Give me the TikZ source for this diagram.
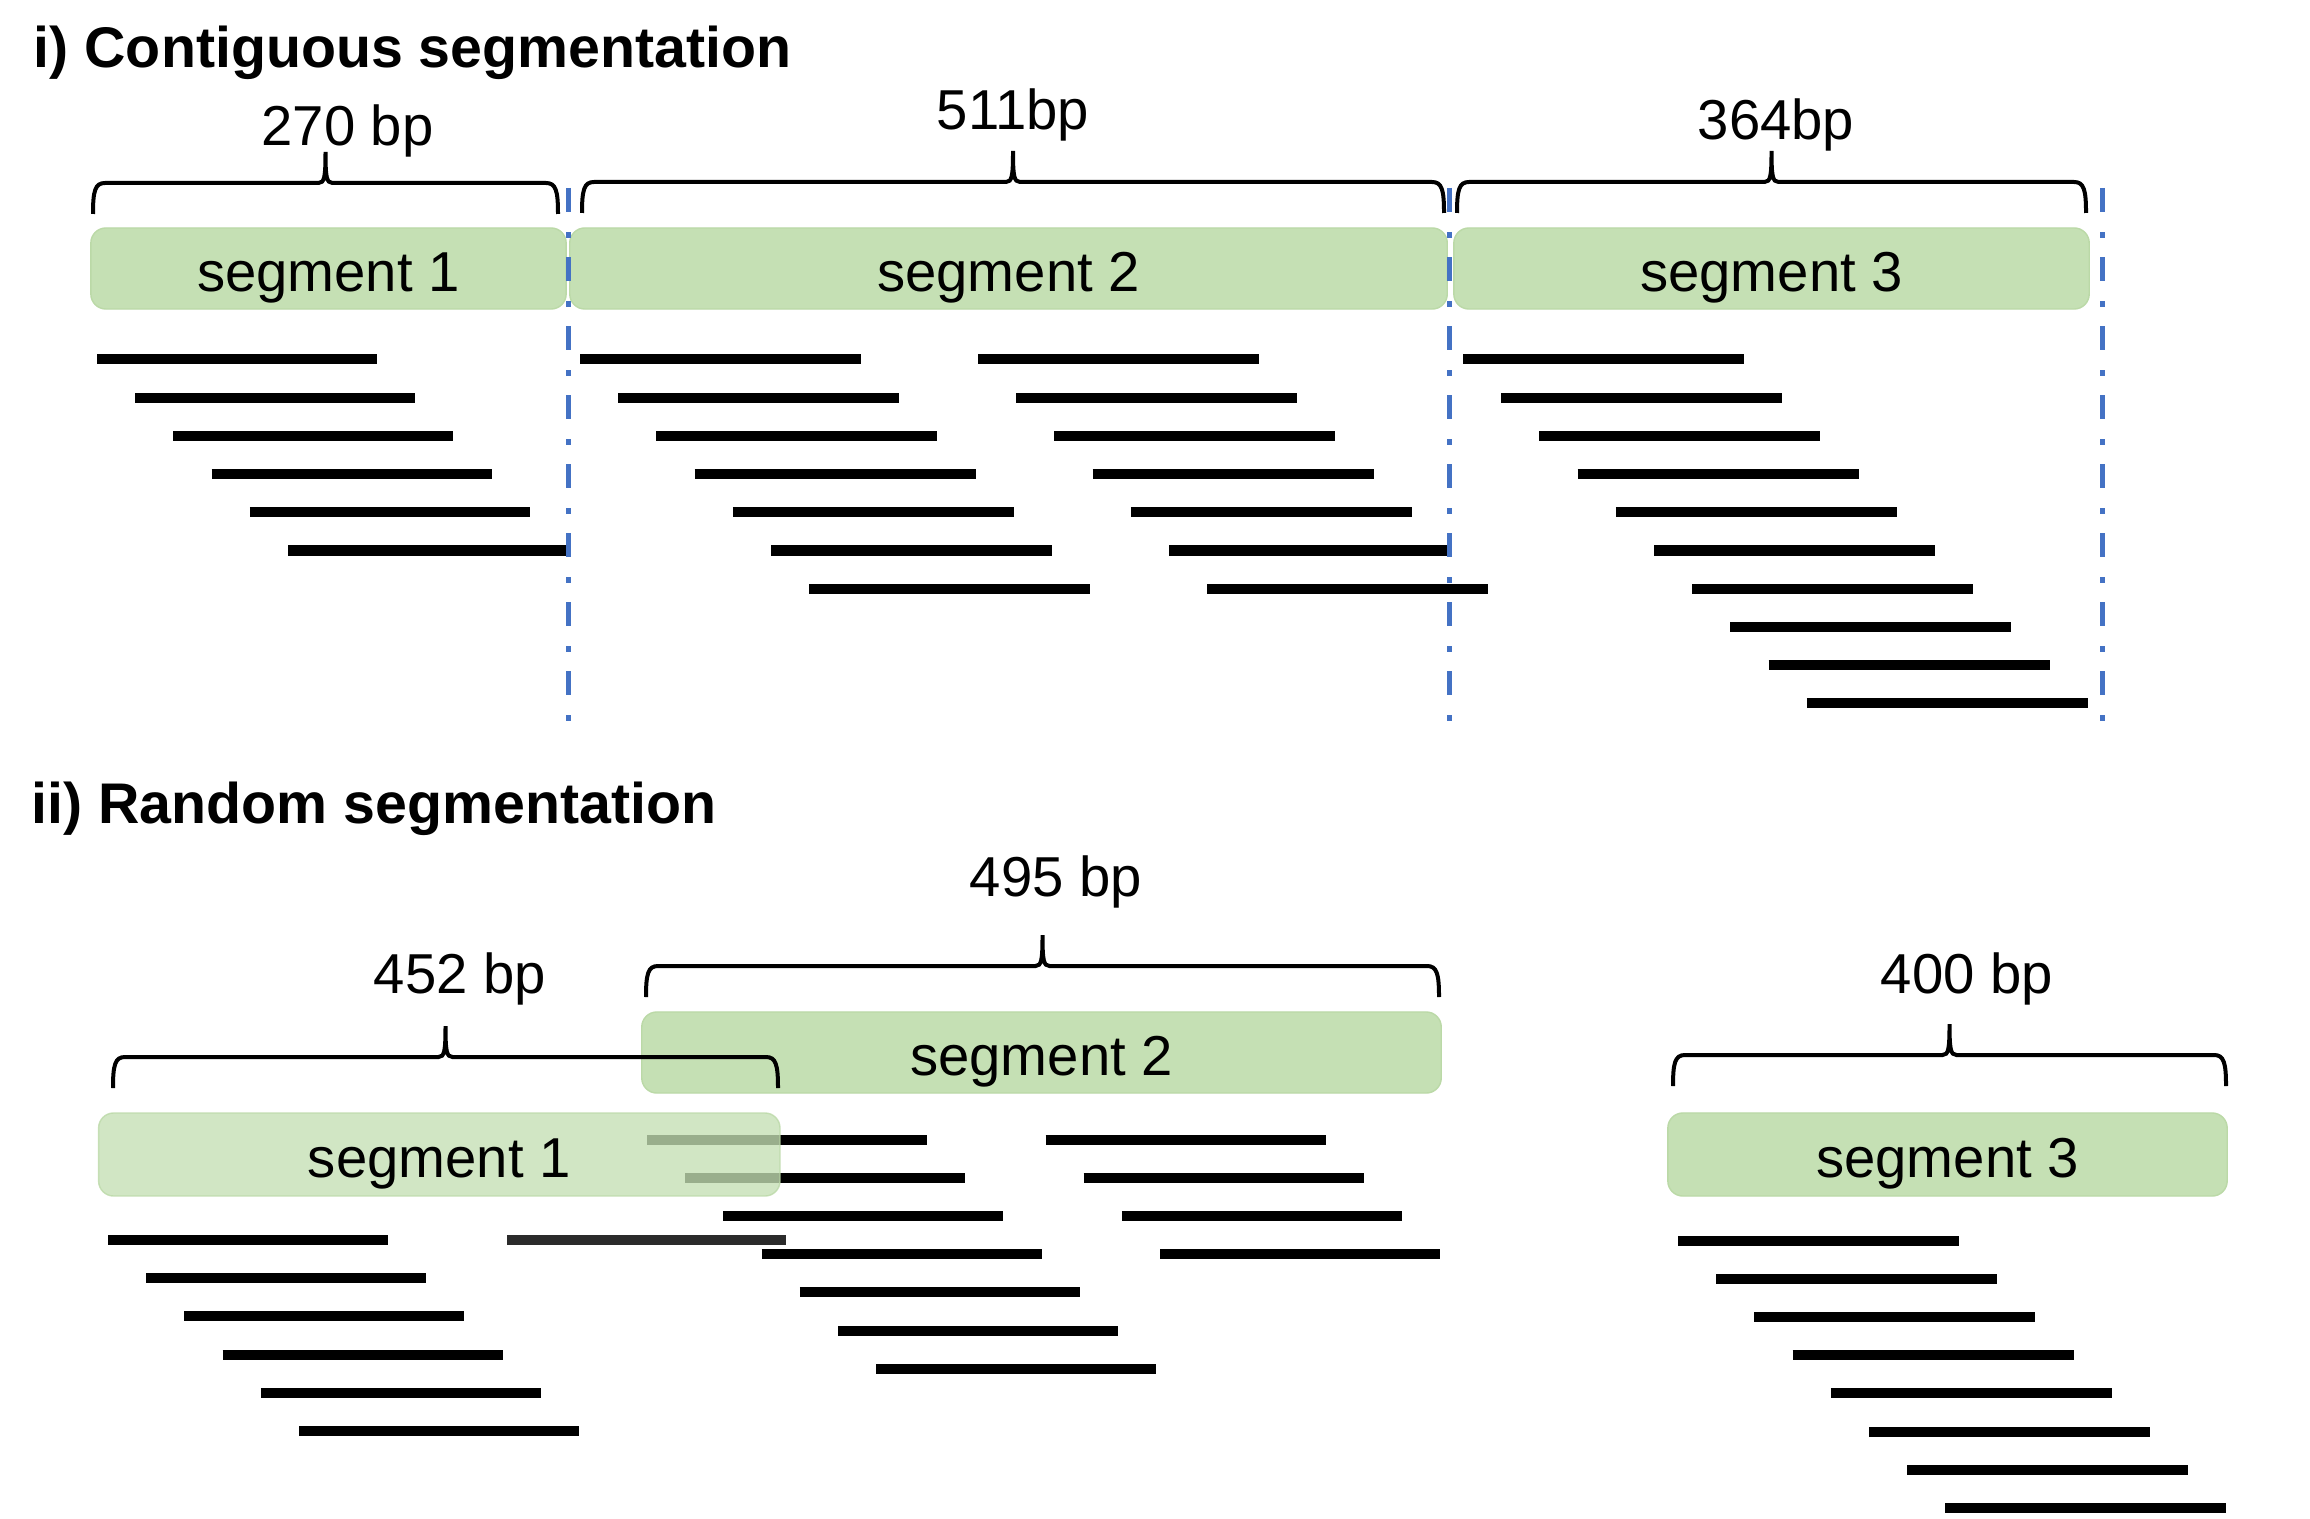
\documentclass[tikz,border=0pt]{standalone}
\usepackage{fontspec}
\setmainfont{Liberation Sans}
\usepackage{xcolor}
\usepackage{tikz}
\usetikzlibrary{calc}
\definecolor{seg}{HTML}{C5E0B4}
\definecolor{segedge}{HTML}{BBD9A7}
\definecolor{cut}{HTML}{4472C4}
\definecolor{ink}{HTML}{000000}
\definecolor{shade}{HTML}{2B2B2B}
\tikzset{
  segbox/.style={fill=seg,draw=segedge,line width=0.4pt,rounded corners=0.15cm,inner sep=0pt,minimum height=0.81cm,text height=0.46cm,text depth=0pt,font=\fontsize{16}{19}\selectfont,text=ink},
  bplbl/.style={anchor=base,inner sep=0pt,font=\fontsize{16}{19}\selectfont,text=ink},
  ttl/.style={anchor=base west,inner sep=0pt,font=\fontsize{16.3}{19}\selectfont\bfseries,text=ink},
  readbar/.style={draw=ink,line width=0.1cm},
  cutline/.style={draw=cut,line width=0.05cm,dash pattern=on 0.24cm off 0.2cm on 0.06cm off 0.19cm},
  spanline/.style={draw=ink,line width=0.04cm},
}
\newcommand{\spanbrace}[3]{%
  \pgfmathsetmacro{\bracemid}{(#1+#2)/2}%
  \draw[spanline] (#1,#3+31) .. controls (#1,#3+8) and (#1+2,#3) .. (#1+12,#3)
    -- (\bracemid-7,#3) .. controls (\bracemid-1,#3) and (\bracemid,#3-6) .. (\bracemid,#3-31)
    .. controls (\bracemid,#3-6) and (\bracemid+1,#3) .. (\bracemid+7,#3)
    -- (#2-12,#3) .. controls (#2-2,#3) and (#2,#3+8) .. (#2,#3+31);
}
\begin{document}
\begin{tikzpicture}[x=0.01cm,y=-0.01cm]
    \fill[white] (0,0) rectangle (2310,1519);
    \useasboundingbox (0,0) rectangle (2310,1519);
    % i) contiguous
    \node[ttl] (t1) at (33,68) {i) Contiguous segmentation};
    \node[segbox,minimum width=4.75cm] (c1) at (328.5,268.5) {segment 1};
    \node[segbox,minimum width=8.77cm] (c2) at (1008.5,268.5) {segment 2};
    \node[segbox,minimum width=6.35cm] (c3) at (1771.5,268.5) {segment 3};
    % reads
    \foreach \k in {0,...,5} {\draw[readbar] ({97+38.2*\k},{359.5+38.2*\k}) -- ++(280,0);}
    \foreach \k in {0,...,6} {
      \draw[readbar] ({580+38.2*\k},{359.5+38.2*\k}) -- ++(281,0);
      \draw[readbar] ({978+38.2*\k},{359.5+38.2*\k}) -- ++(281,0);
    }
    \foreach \k in {0,...,9} {\draw[readbar] ({1463+38.2*\k},{359.5+38.2*\k}) -- ++(281,0);}
    % cut points
    \foreach \cx in {568.5,1449.5,2102} {\draw[cutline] (\cx,188) -- (\cx,728);}
    \spanbrace{93}{558}{183}
    \spanbrace{582}{1444}{182}
    \spanbrace{1457}{2086}{182}
    \node[bplbl] (l1) at (347.5,146) {270 bp};
    \node[bplbl] (l2) at (1013,130) {511bp};
    \node[bplbl] (l3) at (1776,140) {364bp};
    % ii) random
    \node[ttl] (t2) at (31,823) {ii) Random segmentation};
    \node[segbox,minimum width=7.99cm] (r2) at (1041.5,1052.5) {segment 2};
    \foreach \k in {0,...,6} {\draw[readbar] ({647+38.2*\k},{1139.5+38.2*\k}) -- ++(280,0);}
    \foreach \k in {0,...,3} {\draw[readbar] ({1045.5+38.2*\k},{1139.5+38.2*\k}) -- ++(280,0);}
    \foreach \k in {0,...,5} {\draw[readbar] ({108+38.2*\k},{1240+38.2*\k}) -- ++(280,0);}
    \draw[readbar,draw=shade] (507,1240) -- (786,1240);
    \node[segbox,minimum width=6.81cm,minimum height=0.83cm,fill opacity=0.78,draw opacity=0.78,text opacity=1] (r1) at (439.3,1154.5) {segment 1};
    \node[segbox,minimum width=5.59cm,minimum height=0.83cm] (r3) at (1947.5,1154.5) {segment 3};
    \foreach \k in {0,...,7} {\draw[readbar] ({1678+38.2*\k},{1240.5+38.2*\k}) -- ++(281,0);}
    \spanbrace{113}{778}{1057}
    \spanbrace{646}{1439}{966}
    \spanbrace{1673}{2226}{1055}
    \node[bplbl] (l4) at (460,993) {452 bp};
    \node[bplbl] (l5) at (1056,896) {495 bp};
    \node[bplbl] (l6) at (1967,993.5) {400 bp};
\end{tikzpicture}
\end{document}
